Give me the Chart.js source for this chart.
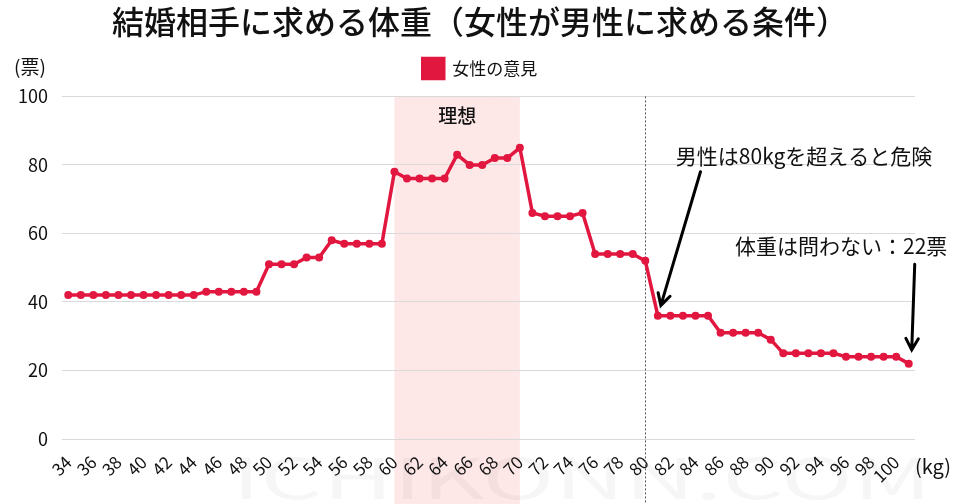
<!DOCTYPE html>
<html lang="ja">
<head>
<meta charset="utf-8">
<script src="https://cdn.jsdelivr.net/npm/chart.js@4/dist/chart.umd.min.js"></script>
<style>
  html, body { margin: 0; padding: 0; background: #fff; }
  #wrap { width: 960px; height: 504px; position: relative; }
</style>
</head>
<body>
<div id="wrap"><canvas id="weightChart"></canvas></div>
<script>
// 体重 (kg) — the last point is the "体重は問わない" answer, no tick label
const weights = ['34','35','36','37','38','39','40','41','42','43','44','45','46','47','48','49',
  '50','51','52','53','54','55','56','57','58','59','60','61','62','63','64','65','66','67','68','69',
  '70','71','72','73','74','75','76','77','78','79','80','81','82','83','84','85','86','87','88','89',
  '90','91','92','93','94','95','96','97','98','99','100','問わない'];

const votes = [42,42,42,42,42,42,42,42,42,42,42,43,43,43,43,43,
  51,51,51,53,53,58,57,57,57,57,78,76,76,76,76,83,80,80,82,82,
  85,66,65,65,65,66,54,54,54,54,52,36,36,36,36,36,31,31,31,31,
  29,25,25,25,25,25,24,24,24,24,24,22];

const yTicks = [0, 20, 40, 60, 80, 100];
const idealRange = ['60', '70'];
const dangerLine = '80';

const RED = '#e2173f';
const FONT = "'Noto Sans CJK JP', 'Noto Sans', sans-serif";

function arrow(ctx, x1, y1, x2, y2) {
  const a = Math.atan2(y2 - y1, x2 - x1);
  const h = 13;
  ctx.beginPath();
  ctx.moveTo(x1, y1);
  ctx.lineTo(x2, y2);
  ctx.moveTo(x2 - h * Math.cos(a - 0.5), y2 - h * Math.sin(a - 0.5));
  ctx.lineTo(x2, y2);
  ctx.lineTo(x2 - h * Math.cos(a + 0.5), y2 - h * Math.sin(a + 0.5));
  ctx.stroke();
}

const decor = {
  id: 'decor',
  beforeDraw(chart) {
    const { ctx, chartArea, scales: { x } } = chart;
    const x1 = x.getPixelForValue(weights.indexOf(idealRange[0]));
    const x2 = x.getPixelForValue(weights.indexOf(idealRange[1]));
    ctx.save();
    ctx.fillStyle = '#fde7e7';
    ctx.fillRect(x1, chartArea.top, x2 - x1, chart.height - chartArea.top);
    ctx.restore();
  },
  beforeDatasetsDraw(chart) {
    const { ctx, chartArea, scales: { x } } = chart;
    const xd = Math.round(x.getPixelForValue(weights.indexOf(dangerLine))) + 0.5;
    ctx.save();
    ctx.strokeStyle = '#555';
    ctx.lineWidth = 1;
    ctx.setLineDash([2, 2]);
    ctx.beginPath();
    ctx.moveTo(xd, chartArea.top);
    ctx.lineTo(xd, chart.height);
    ctx.stroke();
    ctx.restore();
  },
  afterDraw(chart) {
    const { ctx, scales: { x, y } } = chart;
    const last = votes.length - 1;
    ctx.save();
    // watermark
    ctx.font = "56px " + FONT;
    ctx.fillStyle = 'rgba(0,0,0,0.035)';
    ctx.textAlign = 'left';
    ctx.textBaseline = 'middle';
    const wm = 'ICHIKONN.COM';
    const sx = 700 / ctx.measureText(wm).width;
    ctx.save();
    ctx.translate(232, 478);
    ctx.scale(sx, 1);
    ctx.fillText(wm, 0, 0);
    ctx.restore();

    ctx.fillStyle = '#111';
    ctx.font = "19px " + FONT;
    ctx.fillText('(票)', 14, 67);
    ctx.font = "20px " + FONT;
    ctx.fillText('(kg)', 915, 466);

    ctx.textAlign = 'center';
    ctx.font = "500 19px " + FONT;
    const xi1 = x.getPixelForValue(weights.indexOf(idealRange[0]));
    const xi2 = x.getPixelForValue(weights.indexOf(idealRange[1]));
    ctx.fillText('理想', (xi1 + xi2) / 2, y.getPixelForValue(94.3));

    ctx.textAlign = 'left';
    ctx.font = "21px " + FONT;
    ctx.fillText('男性は80kgを超えると危険', x.getPixelForValue(47) + 18, y.getPixelForValue(82.5));
    ctx.fillText('体重は問わない：22票', 735, y.getPixelForValue(56.3));

    ctx.strokeStyle = '#000';
    ctx.lineWidth = 3;
    ctx.lineCap = 'round';
    arrow(ctx, x.getPixelForValue(50) + 5, y.getPixelForValue(78), x.getPixelForValue(47) + 3, y.getPixelForValue(39));
    arrow(ctx, x.getPixelForValue(last) + 6, y.getPixelForValue(51), x.getPixelForValue(last) + 3, y.getPixelForValue(26));
    ctx.restore();
  }
};

new Chart(document.getElementById('weightChart'), {
  type: 'line',
  data: {
    labels: weights,
    datasets: [{
      label: '女性の意見',
      data: votes,
      borderColor: RED,
      backgroundColor: RED,
      borderWidth: 3.5,
      pointRadius: 4,
      pointBackgroundColor: RED,
      pointBorderWidth: 0,
      tension: 0
    }]
  },
  plugins: [decor],
  options: {
    responsive: true,
    maintainAspectRatio: false,
    animation: false,
    layout: { padding: 0 },
    plugins: {
      title: {
        display: true,
        text: '結婚相手に求める体重（女性が男性に求める条件）',
        color: '#111',
        font: { family: FONT, size: 32, weight: '500' },
        padding: { top: 3, bottom: 7 }
      },
      legend: {
        weight: 1000,
        labels: {
          color: '#111',
          boxWidth: 21,
          boxHeight: 20,
          font: { family: FONT, size: 17 }
        }
      },
      // empty spacer below the legend
      subtitle: {
        display: true,
        text: '',
        weight: 500,
        font: { size: 8, lineHeight: 1 },
        padding: 0
      },
      tooltip: { enabled: false }
    },
    scales: {
      x: {
        offset: true,
        grid: { display: false },
        border: { display: false },
        ticks: {
          autoSkip: false,
          maxRotation: 45,
          minRotation: 45,
          color: '#111',
          padding: 5,
          font: { family: FONT, size: 17 },
          callback(v, i) {
            return (i % 2 === 0 && i < weights.length - 1) ? weights[i] : null;
          }
        },
        afterFit(s) { s.height = 65; }
      },
      y: {
        min: yTicks[0],
        max: yTicks[yTicks.length - 1],
        grid: { color: '#d9d9d9', drawTicks: false },
        border: { display: false },
        afterBuildTicks(s) { s.ticks = yTicks.map(v => ({ value: v })); },
        ticks: {
          color: '#111',
          padding: 14,
          font: { family: FONT, size: 18 }
        },
        afterFit(s) { s.width = 62; }
      },
      // blank space on the right for the "(kg)" label
      yR: {
        position: 'right',
        grid: { display: false },
        border: { display: false },
        ticks: { display: false },
        afterFit(s) { s.width = 45; }
      }
    }
  }
});
</script>
</body>
</html>
